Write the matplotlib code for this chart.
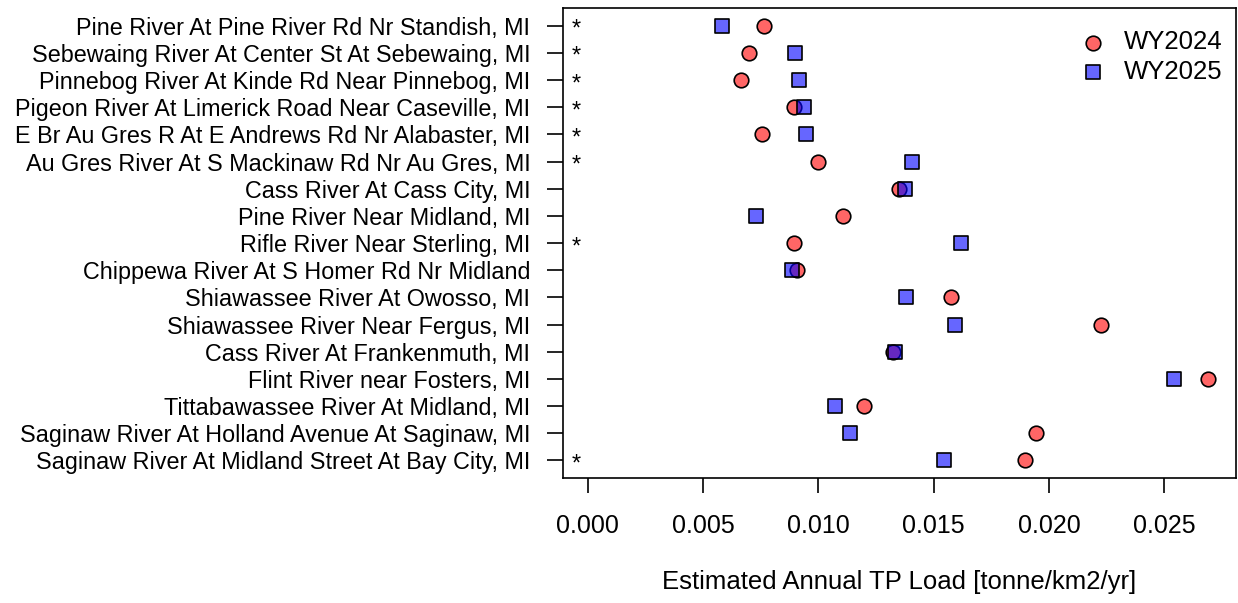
import matplotlib
matplotlib.use("Agg")
import matplotlib.pyplot as plt
import matplotlib.transforms as mtransforms

plt.rcParams['font.family'] = ['Liberation Sans', 'DejaVu Sans']

sites = [
    "Pine River At Pine River Rd Nr Standish, MI",
    "Sebewaing River At Center St At Sebewaing, MI",
    "Pinnebog River At Kinde Rd Near Pinnebog, MI",
    "Pigeon River At Limerick Road Near Caseville, MI",
    "E Br Au Gres R At E Andrews Rd Nr Alabaster, MI",
    "Au Gres River At S Mackinaw Rd Nr Au Gres, MI",
    "Cass River At Cass City, MI",
    "Pine River Near Midland, MI",
    "Rifle River Near Sterling, MI",
    "Chippewa River At S Homer Rd Nr Midland",
    "Shiawassee River At Owosso, MI",
    "Shiawassee River Near Fergus, MI",
    "Cass River At Frankenmuth, MI",
    "Flint River near Fosters, MI",
    "Tittabawassee River At Midland, MI",
    "Saginaw River At Holland Avenue At Saginaw, MI",
    "Saginaw River At Midland Street At Bay City, MI",
]
wy2024 = [0.00766, 0.00698, 0.00662, 0.00893, 0.00754, 0.00997, 0.01348,
          0.01108, 0.00894, 0.00908, 0.01574, 0.02227, 0.01323, 0.02690,
          0.01198, 0.01945, 0.01898]
wy2025 = [0.00582, 0.00900, 0.00917, 0.00938, 0.00947, 0.01408, 0.01376,
          0.00730, 0.01617, 0.00885, 0.01379, 0.01594, 0.01332, 0.02543,
          0.01072, 0.01136, 0.01546]
starred = [True, True, True, True, True, True, False, False, True, False,
           False, False, False, False, False, False, True]
xticks = [0.000, 0.005, 0.010, 0.015, 0.020, 0.025]

fig = plt.figure(figsize=(12.38, 6.03), dpi=100)
ax = fig.add_axes([0.4548, 0.2073, 0.5436, 0.7794])

n = len(sites)
ypos = list(range(n, 0, -1))

ax.scatter(wy2024, ypos, marker='o', s=110, facecolor=(1, 0, 0, 0.6),
           edgecolor='black', linewidth=1.2, label='WY2024', zorder=3)
ax.scatter(wy2025, ypos, marker='s', s=95, facecolor=(0, 0, 1, 0.6),
           edgecolor='black', linewidth=1.2, label='WY2025', zorder=3)

# asterisks next to the y axis
trans = mtransforms.blended_transform_factory(ax.transAxes, ax.transData)
for y, s in zip(ypos, starred):
    if s:
        ax.text(0.019, y - 0.15, "*", transform=trans, ha='center', va='center',
                fontsize=17)

ax.set_xlim(-0.00108, 0.02812)
ax.set_ylim(0.35, n + 0.65)
ax.set_yticks(ypos)
ax.set_yticklabels(sites, fontsize=16.8)
ax.set_xticks(xticks)
ax.set_xticklabels([f"{t:.3f}" for t in xticks], fontsize=18)
ax.tick_params(axis='x', length=11, width=1.2, pad=15)
ax.tick_params(axis='y', length=11.5, width=1.2, pad=12)
for sp in ax.spines.values():
    sp.set_linewidth(1.2)
ax.set_xlabel("Estimated Annual TP Load [tonne/km2/yr]", fontsize=18.5, labelpad=23)

ax.legend(loc='upper right', bbox_to_anchor=(1.003, 0.985), frameon=False,
          fontsize=18.5, handletextpad=0.2, borderaxespad=0.2, labelspacing=0.2)

fig.savefig("out.png", dpi=100)
